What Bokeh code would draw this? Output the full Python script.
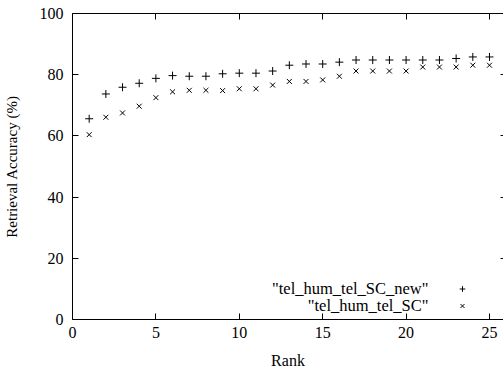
from bokeh.plotting import figure
from bokeh.models import (Range1d, LinearAxis, Legend, LegendItem, Label)
from bokeh.embed import file_html
from bokeh.resources import INLINE

rank = list(range(1, 26))
sc_new = [65.6, 73.7, 75.9, 77.2, 78.8, 79.7, 79.5, 79.5, 80.3, 80.5, 80.5, 81.2, 83.1,
          83.5, 83.5, 84.1, 84.8, 84.8, 84.8, 84.8, 84.8, 84.8, 85.3, 85.8, 85.8]
sc_old = [60.4, 66.1, 67.5, 69.7, 72.5, 74.4, 74.9, 74.9, 74.8, 75.4, 75.4, 76.6, 77.8,
          77.8, 78.3, 79.5, 81.2, 81.2, 81.2, 81.2, 82.5, 82.5, 82.5, 83.1, 83.1]
series_names = ['"tel_hum_tel_SC_new"', '"tel_hum_tel_SC"']
x_tick_values = [0, 5, 10, 15, 20, 25]
y_tick_values = [0, 20, 40, 60, 80, 100]

FONT = "Liberation Serif"
FS = "16px"

p = figure(width=503, height=371, output_backend="svg", toolbar_location=None,
           x_range=Range1d(0, 25.84), y_range=Range1d(0, 100),
           min_border_left=72, min_border_right=0, min_border_top=13, min_border_bottom=52)
p.outline_line_alpha = 0
p.grid.visible = False
p.background_fill_color = "white"
p.border_fill_color = "white"

for ax in (p.xaxis[0], p.yaxis[0]):
    ax.major_tick_in = 6
    ax.major_tick_out = 0
    ax.minor_tick_line_alpha = 0
    ax.axis_line_color = "black"
    ax.major_tick_line_color = "black"
    ax.major_label_text_font = FONT
    ax.major_label_text_font_size = FS
    ax.major_label_text_color = "black"
    ax.axis_label_text_font = FONT
    ax.axis_label_text_font_style = "normal"
    ax.axis_label_text_color = "black"

p.xaxis[0].ticker = x_tick_values
p.yaxis[0].ticker = y_tick_values
p.xaxis[0].axis_label = "Rank"
p.yaxis[0].axis_label = "Retrieval Accuracy (%)"
p.xaxis[0].axis_label_text_font_size = FS
p.yaxis[0].axis_label_text_font_size = "15px"
p.xaxis[0].major_label_standoff = 7
p.yaxis[0].major_label_standoff = 9
p.xaxis[0].axis_label_standoff = 11
p.yaxis[0].axis_label_standoff = 17

top = LinearAxis(ticker=x_tick_values,
                 major_label_overrides={v: "" for v in x_tick_values},
                 major_tick_in=6, major_tick_out=0, minor_tick_line_alpha=0,
                 major_label_text_font_size="1px", major_label_standoff=0,
                 axis_line_color="black")
right = LinearAxis(ticker=y_tick_values,
                   major_label_overrides={v: "" for v in y_tick_values},
                   major_tick_in=3, major_tick_out=0, minor_tick_line_alpha=0,
                   major_label_text_font_size="1px", major_label_standoff=0,
                   axis_line_alpha=0)
p.add_layout(top, "above")
p.add_layout(right, "right")

r1 = p.scatter(rank, sc_new, marker="cross", size=8, line_color="black", line_width=1)
r2 = p.scatter(rank, sc_old, marker="x", size=7, line_color="black", line_width=1)

legend = Legend(items=[LegendItem(label=" ", renderers=[r1]), LegendItem(label=" ", renderers=[r2])],
                location=(383, 5), padding=0, spacing=0, glyph_width=14, glyph_height=17,
                label_height=17, label_width=1, label_standoff=0, margin=0,
                border_line_alpha=0, background_fill_alpha=0, label_text_font_size="1px")
p.add_layout(legend, "center")

for i, name in enumerate(series_names):
    p.add_layout(Label(x=356, y=31 - 17 * i, x_units="screen", y_units="screen", text=name,
                       text_align="right", text_baseline="middle", text_font=FONT,
                       text_font_size="16.5px", text_color="black"))

open("out.html", "w").write(file_html(p, INLINE))
